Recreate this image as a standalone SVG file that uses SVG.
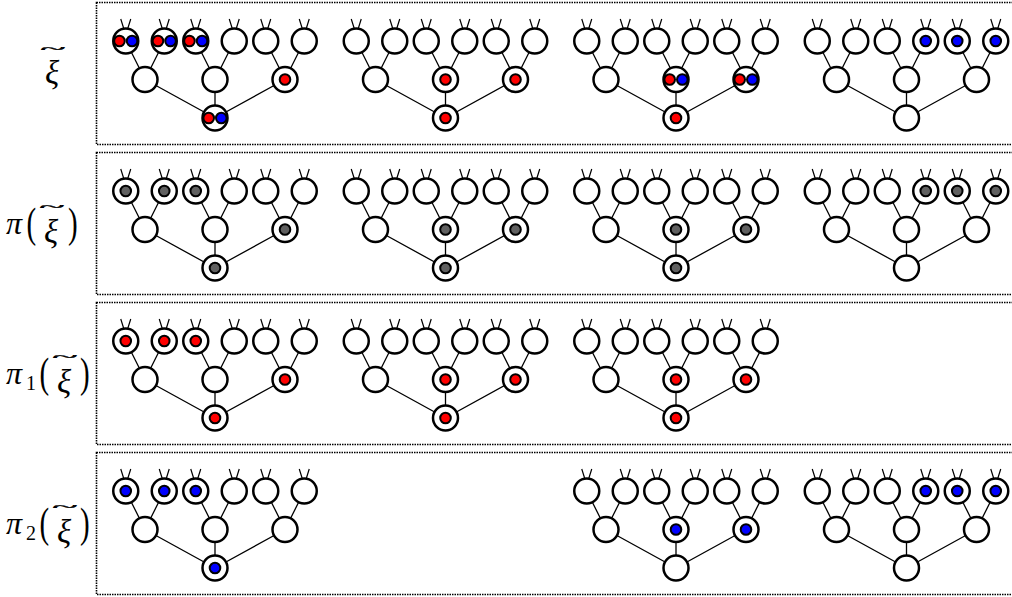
<svg xmlns="http://www.w3.org/2000/svg" xmlns:xlink="http://www.w3.org/1999/xlink" width="1012" height="597" viewBox="0 0 1012 597">
<style>
.nd{fill:#fff;stroke:#000;stroke-width:2.5}
.ant{fill:none;stroke:#000;stroke-width:1.2}
.edge{fill:none;stroke:#000;stroke-width:1.3}
.dot{stroke:#000;stroke-width:2}
.box{fill:none;stroke:#000;stroke-width:1.6;stroke-dasharray:1.5 1}
.m{font-family:"Liberation Serif","DejaVu Serif",serif;font-size:29px;fill:#000}
.i{font-style:italic}
.xi{font-style:italic;font-size:33px}
.pi{font-style:italic;font-size:32px}
.sub{font-size:20px}
.tl{font-size:10px;stroke:#000;stroke-width:0.35}
</style>
<defs>
<path id="edges" d="M0,0V-38.5M0,0L-70,-38.5M0,0L70,-38.5M-70,-38.5L-89.25,-77M-70,-38.5L-50.75,-77M0,-38.5L-19.25,-77M0,-38.5L19.25,-77M70,-38.5L50.75,-77M70,-38.5L89.25,-77"/>
<g id="leaf"><path class="ant" d="M-2,-12.5L-5,-22M2,-12.5L5,-22"/><circle class="nd" r="12.5"/></g>
<circle id="node" class="nd" r="12.5"/>
<circle id="dR" class="dot" r="5.3" fill="#ff0000"/>
<circle id="dB" class="dot" r="5.3" fill="#0000ff"/>
<circle id="dG" class="dot" r="5.3" fill="#606060"/>
<g id="pRB"><circle class="dot" cx="-6.3" r="5.3" fill="#ff0000"/><circle class="dot" cx="6.3" r="5.3" fill="#0000ff"/></g>
</defs>
<rect width="1012" height="597" fill="#fff"/>
<g id="boxes">
<rect class="box" x="96.5" y="2.5" width="930" height="142"/>
<rect class="box" x="96.5" y="152.5" width="930" height="142"/>
<rect class="box" x="96.5" y="302.5" width="930" height="142"/>
<rect class="box" x="96.5" y="452.5" width="930" height="142"/>
</g>
<g id="labels" class="m">
<g id="lab1"><text class="xi" x="52" y="84" text-anchor="middle">ξ</text><text class="tl" transform="translate(53,54.3) scale(4.6,1.4)" text-anchor="middle">~</text></g>
<g id="lab2"><text class="pi" x="6" y="234">π</text><text transform="translate(26.5,226.5) scale(1,1.45)" y="7.5">(</text><text class="xi" x="51" y="242.5" text-anchor="middle">ξ</text><text class="tl" transform="translate(52,211.8) scale(4.6,1.4)" text-anchor="middle">~</text><text transform="translate(68,226.5) scale(1,1.45)" y="7.5">)</text></g>
<g id="lab3"><text class="pi" x="6" y="384">π</text><text class="sub" x="26" y="390">1</text><text transform="translate(39.5,376.5) scale(1,1.45)" y="7.5">(</text><text class="xi" x="64" y="392.5" text-anchor="middle">ξ</text><text class="tl" transform="translate(65,361.8) scale(4.6,1.4)" text-anchor="middle">~</text><text transform="translate(80,376.5) scale(1,1.45)" y="7.5">)</text></g>
<g id="lab4"><text class="pi" x="6" y="534">π</text><text class="sub" x="26" y="540">2</text><text transform="translate(39.5,526.5) scale(1,1.45)" y="7.5">(</text><text class="xi" x="64" y="542.5" text-anchor="middle">ξ</text><text class="tl" transform="translate(65,511.8) scale(4.6,1.4)" text-anchor="middle">~</text><text transform="translate(80,526.5) scale(1,1.45)" y="7.5">)</text></g>
</g>
<g id="connectors" class="edge">
<use href="#edges" x="215" y="118"/><use href="#edges" x="445.5" y="118"/><use href="#edges" x="676" y="118"/><use href="#edges" x="906.5" y="118"/>
<use href="#edges" x="215" y="268"/><use href="#edges" x="445.5" y="268"/><use href="#edges" x="676" y="268"/><use href="#edges" x="906.5" y="268"/>
<use href="#edges" x="215" y="418"/><use href="#edges" x="445.5" y="418"/><use href="#edges" x="676" y="418"/>
<use href="#edges" x="215" y="568"/><use href="#edges" x="676" y="568"/><use href="#edges" x="906.5" y="568"/>
</g>
<!-- Row 1 -->
<g id="r1t1" transform="translate(215,118)">
<g id="r1t1-root"><use href="#node"/><use href="#pRB"/></g>
<g id="r1t1-m1" transform="translate(-70,-38.5)"><use href="#node"/></g>
<g id="r1t1-m2" transform="translate(0,-38.5)"><use href="#node"/></g>
<g id="r1t1-m3" transform="translate(70,-38.5)"><use href="#node"/><use href="#dR"/></g>
<g id="r1t1-l1" transform="translate(-89.25,-77)"><use href="#leaf"/><use href="#pRB"/></g>
<g id="r1t1-l2" transform="translate(-50.75,-77)"><use href="#leaf"/><use href="#pRB"/></g>
<g id="r1t1-l3" transform="translate(-19.25,-77)"><use href="#leaf"/><use href="#pRB"/></g>
<g id="r1t1-l4" transform="translate(19.25,-77)"><use href="#leaf"/></g>
<g id="r1t1-l5" transform="translate(50.75,-77)"><use href="#leaf"/></g>
<g id="r1t1-l6" transform="translate(89.25,-77)"><use href="#leaf"/></g>
</g>
<g id="r1t2" transform="translate(445.5,118)">
<g id="r1t2-root"><use href="#node"/><use href="#dR"/></g>
<g id="r1t2-m1" transform="translate(-70,-38.5)"><use href="#node"/></g>
<g id="r1t2-m2" transform="translate(0,-38.5)"><use href="#node"/><use href="#dR"/></g>
<g id="r1t2-m3" transform="translate(70,-38.5)"><use href="#node"/><use href="#dR"/></g>
<g id="r1t2-l1" transform="translate(-89.25,-77)"><use href="#leaf"/></g>
<g id="r1t2-l2" transform="translate(-50.75,-77)"><use href="#leaf"/></g>
<g id="r1t2-l3" transform="translate(-19.25,-77)"><use href="#leaf"/></g>
<g id="r1t2-l4" transform="translate(19.25,-77)"><use href="#leaf"/></g>
<g id="r1t2-l5" transform="translate(50.75,-77)"><use href="#leaf"/></g>
<g id="r1t2-l6" transform="translate(89.25,-77)"><use href="#leaf"/></g>
</g>
<g id="r1t3" transform="translate(676,118)">
<g id="r1t3-root"><use href="#node"/><use href="#dR"/></g>
<g id="r1t3-m1" transform="translate(-70,-38.5)"><use href="#node"/></g>
<g id="r1t3-m2" transform="translate(0,-38.5)"><use href="#node"/><use href="#pRB"/></g>
<g id="r1t3-m3" transform="translate(70,-38.5)"><use href="#node"/><use href="#pRB"/></g>
<g id="r1t3-l1" transform="translate(-89.25,-77)"><use href="#leaf"/></g>
<g id="r1t3-l2" transform="translate(-50.75,-77)"><use href="#leaf"/></g>
<g id="r1t3-l3" transform="translate(-19.25,-77)"><use href="#leaf"/></g>
<g id="r1t3-l4" transform="translate(19.25,-77)"><use href="#leaf"/></g>
<g id="r1t3-l5" transform="translate(50.75,-77)"><use href="#leaf"/></g>
<g id="r1t3-l6" transform="translate(89.25,-77)"><use href="#leaf"/></g>
</g>
<g id="r1t4" transform="translate(906.5,118)">
<g id="r1t4-root"><use href="#node"/></g>
<g id="r1t4-m1" transform="translate(-70,-38.5)"><use href="#node"/></g>
<g id="r1t4-m2" transform="translate(0,-38.5)"><use href="#node"/></g>
<g id="r1t4-m3" transform="translate(70,-38.5)"><use href="#node"/></g>
<g id="r1t4-l1" transform="translate(-89.25,-77)"><use href="#leaf"/></g>
<g id="r1t4-l2" transform="translate(-50.75,-77)"><use href="#leaf"/></g>
<g id="r1t4-l3" transform="translate(-19.25,-77)"><use href="#leaf"/></g>
<g id="r1t4-l4" transform="translate(19.25,-77)"><use href="#leaf"/><use href="#dB"/></g>
<g id="r1t4-l5" transform="translate(50.75,-77)"><use href="#leaf"/><use href="#dB"/></g>
<g id="r1t4-l6" transform="translate(89.25,-77)"><use href="#leaf"/><use href="#dB"/></g>
</g>
<!-- Row 2 -->
<g id="r2t1" transform="translate(215,268)">
<g id="r2t1-root"><use href="#node"/><use href="#dG"/></g>
<g id="r2t1-m1" transform="translate(-70,-38.5)"><use href="#node"/></g>
<g id="r2t1-m2" transform="translate(0,-38.5)"><use href="#node"/></g>
<g id="r2t1-m3" transform="translate(70,-38.5)"><use href="#node"/><use href="#dG"/></g>
<g id="r2t1-l1" transform="translate(-89.25,-77)"><use href="#leaf"/><use href="#dG"/></g>
<g id="r2t1-l2" transform="translate(-50.75,-77)"><use href="#leaf"/><use href="#dG"/></g>
<g id="r2t1-l3" transform="translate(-19.25,-77)"><use href="#leaf"/><use href="#dG"/></g>
<g id="r2t1-l4" transform="translate(19.25,-77)"><use href="#leaf"/></g>
<g id="r2t1-l5" transform="translate(50.75,-77)"><use href="#leaf"/></g>
<g id="r2t1-l6" transform="translate(89.25,-77)"><use href="#leaf"/></g>
</g>
<g id="r2t2" transform="translate(445.5,268)">
<g id="r2t2-root"><use href="#node"/><use href="#dG"/></g>
<g id="r2t2-m1" transform="translate(-70,-38.5)"><use href="#node"/></g>
<g id="r2t2-m2" transform="translate(0,-38.5)"><use href="#node"/><use href="#dG"/></g>
<g id="r2t2-m3" transform="translate(70,-38.5)"><use href="#node"/><use href="#dG"/></g>
<g id="r2t2-l1" transform="translate(-89.25,-77)"><use href="#leaf"/></g>
<g id="r2t2-l2" transform="translate(-50.75,-77)"><use href="#leaf"/></g>
<g id="r2t2-l3" transform="translate(-19.25,-77)"><use href="#leaf"/></g>
<g id="r2t2-l4" transform="translate(19.25,-77)"><use href="#leaf"/></g>
<g id="r2t2-l5" transform="translate(50.75,-77)"><use href="#leaf"/></g>
<g id="r2t2-l6" transform="translate(89.25,-77)"><use href="#leaf"/></g>
</g>
<g id="r2t3" transform="translate(676,268)">
<g id="r2t3-root"><use href="#node"/><use href="#dG"/></g>
<g id="r2t3-m1" transform="translate(-70,-38.5)"><use href="#node"/></g>
<g id="r2t3-m2" transform="translate(0,-38.5)"><use href="#node"/><use href="#dG"/></g>
<g id="r2t3-m3" transform="translate(70,-38.5)"><use href="#node"/><use href="#dG"/></g>
<g id="r2t3-l1" transform="translate(-89.25,-77)"><use href="#leaf"/></g>
<g id="r2t3-l2" transform="translate(-50.75,-77)"><use href="#leaf"/></g>
<g id="r2t3-l3" transform="translate(-19.25,-77)"><use href="#leaf"/></g>
<g id="r2t3-l4" transform="translate(19.25,-77)"><use href="#leaf"/></g>
<g id="r2t3-l5" transform="translate(50.75,-77)"><use href="#leaf"/></g>
<g id="r2t3-l6" transform="translate(89.25,-77)"><use href="#leaf"/></g>
</g>
<g id="r2t4" transform="translate(906.5,268)">
<g id="r2t4-root"><use href="#node"/></g>
<g id="r2t4-m1" transform="translate(-70,-38.5)"><use href="#node"/></g>
<g id="r2t4-m2" transform="translate(0,-38.5)"><use href="#node"/></g>
<g id="r2t4-m3" transform="translate(70,-38.5)"><use href="#node"/></g>
<g id="r2t4-l1" transform="translate(-89.25,-77)"><use href="#leaf"/></g>
<g id="r2t4-l2" transform="translate(-50.75,-77)"><use href="#leaf"/></g>
<g id="r2t4-l3" transform="translate(-19.25,-77)"><use href="#leaf"/></g>
<g id="r2t4-l4" transform="translate(19.25,-77)"><use href="#leaf"/><use href="#dG"/></g>
<g id="r2t4-l5" transform="translate(50.75,-77)"><use href="#leaf"/><use href="#dG"/></g>
<g id="r2t4-l6" transform="translate(89.25,-77)"><use href="#leaf"/><use href="#dG"/></g>
</g>
<!-- Row 3 -->
<g id="r3t1" transform="translate(215,418)">
<g id="r3t1-root"><use href="#node"/><use href="#dR"/></g>
<g id="r3t1-m1" transform="translate(-70,-38.5)"><use href="#node"/></g>
<g id="r3t1-m2" transform="translate(0,-38.5)"><use href="#node"/></g>
<g id="r3t1-m3" transform="translate(70,-38.5)"><use href="#node"/><use href="#dR"/></g>
<g id="r3t1-l1" transform="translate(-89.25,-77)"><use href="#leaf"/><use href="#dR"/></g>
<g id="r3t1-l2" transform="translate(-50.75,-77)"><use href="#leaf"/><use href="#dR"/></g>
<g id="r3t1-l3" transform="translate(-19.25,-77)"><use href="#leaf"/><use href="#dR"/></g>
<g id="r3t1-l4" transform="translate(19.25,-77)"><use href="#leaf"/></g>
<g id="r3t1-l5" transform="translate(50.75,-77)"><use href="#leaf"/></g>
<g id="r3t1-l6" transform="translate(89.25,-77)"><use href="#leaf"/></g>
</g>
<g id="r3t2" transform="translate(445.5,418)">
<g id="r3t2-root"><use href="#node"/><use href="#dR"/></g>
<g id="r3t2-m1" transform="translate(-70,-38.5)"><use href="#node"/></g>
<g id="r3t2-m2" transform="translate(0,-38.5)"><use href="#node"/><use href="#dR"/></g>
<g id="r3t2-m3" transform="translate(70,-38.5)"><use href="#node"/><use href="#dR"/></g>
<g id="r3t2-l1" transform="translate(-89.25,-77)"><use href="#leaf"/></g>
<g id="r3t2-l2" transform="translate(-50.75,-77)"><use href="#leaf"/></g>
<g id="r3t2-l3" transform="translate(-19.25,-77)"><use href="#leaf"/></g>
<g id="r3t2-l4" transform="translate(19.25,-77)"><use href="#leaf"/></g>
<g id="r3t2-l5" transform="translate(50.75,-77)"><use href="#leaf"/></g>
<g id="r3t2-l6" transform="translate(89.25,-77)"><use href="#leaf"/></g>
</g>
<g id="r3t3" transform="translate(676,418)">
<g id="r3t3-root"><use href="#node"/><use href="#dR"/></g>
<g id="r3t3-m1" transform="translate(-70,-38.5)"><use href="#node"/></g>
<g id="r3t3-m2" transform="translate(0,-38.5)"><use href="#node"/><use href="#dR"/></g>
<g id="r3t3-m3" transform="translate(70,-38.5)"><use href="#node"/><use href="#dR"/></g>
<g id="r3t3-l1" transform="translate(-89.25,-77)"><use href="#leaf"/></g>
<g id="r3t3-l2" transform="translate(-50.75,-77)"><use href="#leaf"/></g>
<g id="r3t3-l3" transform="translate(-19.25,-77)"><use href="#leaf"/></g>
<g id="r3t3-l4" transform="translate(19.25,-77)"><use href="#leaf"/></g>
<g id="r3t3-l5" transform="translate(50.75,-77)"><use href="#leaf"/></g>
<g id="r3t3-l6" transform="translate(89.25,-77)"><use href="#leaf"/></g>
</g>
<!-- Row 4 -->
<g id="r4t1" transform="translate(215,568)">
<g id="r4t1-root"><use href="#node"/><use href="#dB"/></g>
<g id="r4t1-m1" transform="translate(-70,-38.5)"><use href="#node"/></g>
<g id="r4t1-m2" transform="translate(0,-38.5)"><use href="#node"/></g>
<g id="r4t1-m3" transform="translate(70,-38.5)"><use href="#node"/></g>
<g id="r4t1-l1" transform="translate(-89.25,-77)"><use href="#leaf"/><use href="#dB"/></g>
<g id="r4t1-l2" transform="translate(-50.75,-77)"><use href="#leaf"/><use href="#dB"/></g>
<g id="r4t1-l3" transform="translate(-19.25,-77)"><use href="#leaf"/><use href="#dB"/></g>
<g id="r4t1-l4" transform="translate(19.25,-77)"><use href="#leaf"/></g>
<g id="r4t1-l5" transform="translate(50.75,-77)"><use href="#leaf"/></g>
<g id="r4t1-l6" transform="translate(89.25,-77)"><use href="#leaf"/></g>
</g>
<g id="r4t3" transform="translate(676,568)">
<g id="r4t3-root"><use href="#node"/></g>
<g id="r4t3-m1" transform="translate(-70,-38.5)"><use href="#node"/></g>
<g id="r4t3-m2" transform="translate(0,-38.5)"><use href="#node"/><use href="#dB"/></g>
<g id="r4t3-m3" transform="translate(70,-38.5)"><use href="#node"/><use href="#dB"/></g>
<g id="r4t3-l1" transform="translate(-89.25,-77)"><use href="#leaf"/></g>
<g id="r4t3-l2" transform="translate(-50.75,-77)"><use href="#leaf"/></g>
<g id="r4t3-l3" transform="translate(-19.25,-77)"><use href="#leaf"/></g>
<g id="r4t3-l4" transform="translate(19.25,-77)"><use href="#leaf"/></g>
<g id="r4t3-l5" transform="translate(50.75,-77)"><use href="#leaf"/></g>
<g id="r4t3-l6" transform="translate(89.25,-77)"><use href="#leaf"/></g>
</g>
<g id="r4t4" transform="translate(906.5,568)">
<g id="r4t4-root"><use href="#node"/></g>
<g id="r4t4-m1" transform="translate(-70,-38.5)"><use href="#node"/></g>
<g id="r4t4-m2" transform="translate(0,-38.5)"><use href="#node"/></g>
<g id="r4t4-m3" transform="translate(70,-38.5)"><use href="#node"/></g>
<g id="r4t4-l1" transform="translate(-89.25,-77)"><use href="#leaf"/></g>
<g id="r4t4-l2" transform="translate(-50.75,-77)"><use href="#leaf"/></g>
<g id="r4t4-l3" transform="translate(-19.25,-77)"><use href="#leaf"/></g>
<g id="r4t4-l4" transform="translate(19.25,-77)"><use href="#leaf"/><use href="#dB"/></g>
<g id="r4t4-l5" transform="translate(50.75,-77)"><use href="#leaf"/><use href="#dB"/></g>
<g id="r4t4-l6" transform="translate(89.25,-77)"><use href="#leaf"/><use href="#dB"/></g>
</g>
</svg>
